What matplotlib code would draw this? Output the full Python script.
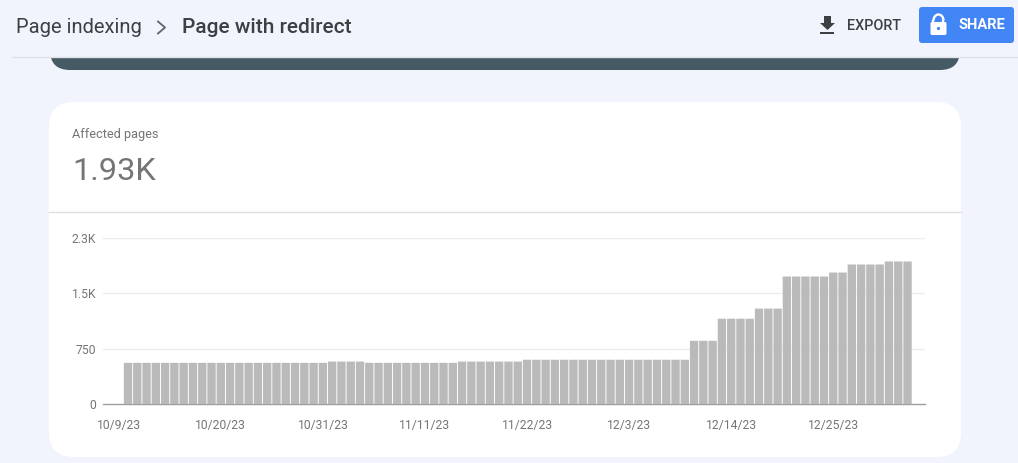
import matplotlib
matplotlib.use("Agg")
import matplotlib.pyplot as plt
from matplotlib.patches import FancyBboxPatch, Polygon, Rectangle, Circle, Arc

plt.rcParams['font.family'] = ['Roboto', 'DejaVu Sans']

# Data: (value, run length in days) starting 10/9/23
run_values = [558, 575, 558, 575, 600, 857, 1156, 1293, 1728, 1782, 1891, 1932]
run_lengths = [22, 4, 10, 7, 18, 3, 4, 3, 5, 2, 4, 3]
values = [v for v, n in zip(run_values, run_lengths) for _ in range(n)]
tick_labels = ['10/9/23', '10/20/23', '10/31/23', '11/11/23', '11/22/23', '12/3/23', '12/14/23', '12/25/23']
y_ticks = [0, 750, 1500, 2250]
y_labels = ['0', '750', '1.5K', '2.3K']

BG = '#f1f4fd'
W, H = 1018, 463
fig = plt.figure(figsize=(W / 100, H / 100), dpi=100, facecolor=BG)

bg = fig.add_axes([0, 0, 1, 1])
bg.set_xlim(0, W)
bg.set_ylim(H, 0)
bg.axis('off')

# dark banner, cut off by the header
bg.add_patch(FancyBboxPatch((50, 20), 910, 50, boxstyle='round,pad=0,rounding_size=20',
                            fc='#455a64', ec='none', zorder=1))
bg.add_patch(Rectangle((0, 0), W, 57, fc=BG, ec='none', zorder=2))
bg.plot([12, W], [57.3, 57.3], color='#dfe1e6', lw=1, zorder=3)

# card
bg.add_patch(FancyBboxPatch((49, 102), 912, 355, boxstyle='round,pad=0,rounding_size=25',
                            fc='white', ec='none', zorder=1))
bg.plot([49, 961], [211.7, 211.7], color='#e0e0e0', lw=1, zorder=3)

# header text
bg.text(16, 33, 'Page indexing', fontsize=14.5, color='#3c4043', va='baseline', zorder=4)
bg.plot([158, 165, 158], [21.5, 27.5, 33.5], color='#5f6368', lw=1.3, zorder=4)
bg.text(182, 33, 'Page with redirect', fontsize=15, color='#3c4043', va='baseline',
        weight='medium', zorder=4)

# export
bg.add_patch(Polygon([[824, 16], [831, 16], [831, 23], [835, 23], [827.5, 30], [820, 23], [824, 23]],
                     fc='#3c4043', ec='none', zorder=4))
bg.add_patch(Rectangle((820, 31.5), 14.5, 2, fc='#3c4043', ec='none', zorder=4))
bg.text(847.5, 30, 'EXPORT', fontsize=10.4, color='#3c4043', weight='medium', va='baseline', zorder=4)

# share
bg.add_patch(FancyBboxPatch((919, 7), 95, 36, boxstyle='round,pad=0,rounding_size=3',
                            fc='#4285f4', ec='none', zorder=4))
bg.add_patch(FancyBboxPatch((930.5, 22), 16, 13, boxstyle='round,pad=0,rounding_size=1.5',
                            fc='white', ec='none', zorder=5))
bg.add_patch(Arc((938.5, 20.5), 10, 12, theta1=180, theta2=360, ec='white', lw=1.7, zorder=5))
bg.plot([933.5, 933.5], [20.5, 23], color='white', lw=1.7, zorder=5)
bg.plot([943.5, 943.5], [20.5, 23], color='white', lw=1.7, zorder=5)
bg.add_patch(Circle((938.5, 28.5), 1.6, fc='#4285f4', ec='none', zorder=6))
bg.text(959, 29, 'SHARE', fontsize=10.6, color='white', weight='bold', va='baseline', zorder=5)

# card text
bg.text(72.5, 138, 'Affected pages', fontsize=9.2, color='#757575', va='baseline', zorder=4)
bg.text(72.5, 180, '1.93K', fontsize=23.4, color='#757575', va='baseline', zorder=4)

# chart axes: px 103..925 across, y 238..404 down
ax = fig.add_axes([103 / W, 1 - 404 / H, (925 - 103) / W, 166 / H], facecolor='none')
pitch = 9.28
first_center = 128.0
ax.set_xlim((103 - first_center) / pitch, (925 - first_center) / pitch)
ax.set_ylim(0, 2250)
bars = ax.bar(range(len(values)), values, width=0.9, color='#bababa', zorder=2)
for b in bars:
    b.set_snap(False)

ax.set_yticks(y_ticks, y_labels)
# the labels sit one slot left of the day they name
ax.set_xticks([i * 11 - 1 for i in range(len(tick_labels))], tick_labels)
ax.tick_params(axis='both', length=0, labelcolor='#757575')
ax.tick_params(axis='y', pad=5, labelsize=8.7)
ax.tick_params(axis='x', pad=11, labelsize=8.7)
ax.grid(axis='y', color='#ececec', lw=1, zorder=1)
for side in ['top', 'right', 'left']:
    ax.spines[side].set_visible(False)
ax.spines['bottom'].set_color('#9e9e9e')
ax.spines['bottom'].set_linewidth(1)
ax.spines['bottom'].set_zorder(1)

fig.savefig('out.png', dpi=100, facecolor=BG)
